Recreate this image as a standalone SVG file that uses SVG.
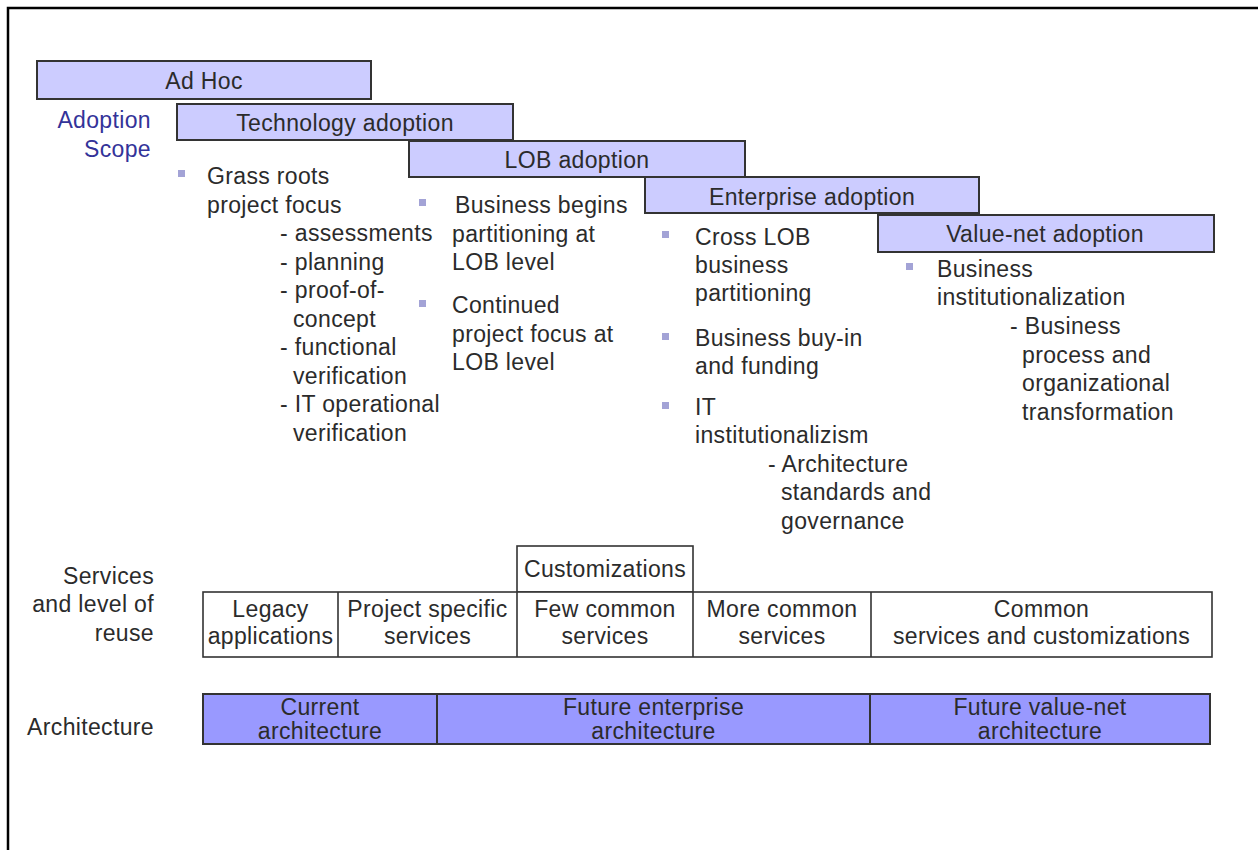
<svg xmlns="http://www.w3.org/2000/svg" width="1258" height="850" viewBox="0 0 1258 850">
<style>
text{font-family:"Liberation Sans",Arial,sans-serif;font-size:23px;fill:#2b2b2b;letter-spacing:0.35px}
.c{text-anchor:middle}
.r{text-anchor:end}
.blue{fill:#333399}
.phase{fill:#ccccff;stroke:#333;stroke-width:2}
.cell{fill:#fff;stroke:#333;stroke-width:1.6}
.arch{fill:#9999ff;stroke:#333;stroke-width:2}
.bul{fill:#a3a3d6}
</style>
<rect width="1258" height="850" fill="#fff"/>
<path d="M8,850 V8 H1258" fill="none" stroke="#000" stroke-width="2.5"/>

<g id="labels">
<text class="r blue" x="151" y="128">Adoption</text>
<text class="r blue" x="151" y="157">Scope</text>
<text class="r" x="154" y="584">Services</text>
<text class="r" x="154" y="612">and level of</text>
<text class="r" x="154" y="641">reuse</text>
<text class="r" x="154" y="735">Architecture</text>
</g>

<g id="adhoc"><rect class="phase" x="37" y="61" width="334" height="38"/><text class="c" x="204" y="89">Ad Hoc</text></g>
<g id="technology"><rect class="phase" x="177" y="104" width="336" height="36"/><text class="c" x="345" y="131">Technology adoption</text></g>
<g id="lob"><rect class="phase" x="409" y="141" width="336" height="36"/><text class="c" x="577" y="168">LOB adoption</text></g>
<g id="enterprise"><rect class="phase" x="645" y="177" width="334" height="36"/><text class="c" x="812" y="205">Enterprise adoption</text></g>
<g id="valuenet"><rect class="phase" x="878" y="215" width="336" height="37"/><text class="c" x="1045" y="242">Value-net adoption</text></g>

<g id="col-technology">
<rect class="bul" x="178" y="170" width="7" height="7"/>
<text x="207" y="184">Grass roots</text>
<text x="207" y="212.5">project focus</text>
<text x="280" y="241">- assessments</text>
<text x="280" y="269.5">- planning</text>
<text x="280" y="298">- proof-of-</text>
<text x="293" y="326.5">concept</text>
<text x="280" y="355">- functional</text>
<text x="293" y="383.5">verification</text>
<text x="280" y="412">- IT operational</text>
<text x="293" y="440.5">verification</text>
</g>

<g id="col-lob">
<rect class="bul" x="419" y="199" width="7" height="7"/>
<text x="455" y="213">Business begins</text>
<text x="452" y="241.5">partitioning at</text>
<text x="452" y="270">LOB level</text>
<rect class="bul" x="419" y="300" width="7" height="7"/>
<text x="452" y="313">Continued</text>
<text x="452" y="341.5">project focus at</text>
<text x="452" y="370">LOB level</text>
</g>

<g id="col-enterprise">
<rect class="bul" x="662" y="231" width="7" height="7"/>
<text x="695" y="245">Cross LOB</text>
<text x="695" y="273">business</text>
<text x="695" y="301">partitioning</text>
<rect class="bul" x="662" y="333" width="7" height="7"/>
<text x="695" y="346">Business buy-in</text>
<text x="695" y="374">and funding</text>
<rect class="bul" x="662" y="402" width="7" height="7"/>
<text x="695" y="415">IT</text>
<text x="695" y="443">institutionalizism</text>
<text x="768" y="471.5">- Architecture</text>
<text x="781" y="500">standards and</text>
<text x="781" y="528.5">governance</text>
</g>

<g id="col-valuenet">
<rect class="bul" x="906" y="263" width="7" height="7"/>
<text x="937" y="277">Business</text>
<text x="937" y="305">institutionalization</text>
<text x="1010" y="334">- Business</text>
<text x="1022" y="362.5">process and</text>
<text x="1022" y="391">organizational</text>
<text x="1022" y="419.5">transformation</text>
</g>

<g id="services">
<rect class="cell" x="517" y="546" width="176" height="46"/>
<text class="c" x="605" y="577">Customizations</text>
<rect class="cell" x="203" y="592" width="1009" height="65"/>
<line x1="338" y1="592" x2="338" y2="657" stroke="#333" stroke-width="1.6"/>
<line x1="517" y1="592" x2="517" y2="657" stroke="#333" stroke-width="1.6"/>
<line x1="693" y1="592" x2="693" y2="657" stroke="#333" stroke-width="1.6"/>
<line x1="871" y1="592" x2="871" y2="657" stroke="#333" stroke-width="1.6"/>
<text class="c" x="270.5" y="617">Legacy</text>
<text class="c" x="270.5" y="644">applications</text>
<text class="c" x="427.5" y="617">Project specific</text>
<text class="c" x="427.5" y="644">services</text>
<text class="c" x="605" y="617">Few common</text>
<text class="c" x="605" y="644">services</text>
<text class="c" x="782" y="617">More common</text>
<text class="c" x="782" y="644">services</text>
<text class="c" x="1041.5" y="617">Common</text>
<text class="c" x="1041.5" y="644">services and customizations</text>
</g>

<g id="architecture">
<rect class="arch" x="203" y="694" width="1007" height="50"/>
<line x1="437" y1="694" x2="437" y2="744" stroke="#333" stroke-width="2"/>
<line x1="870" y1="694" x2="870" y2="744" stroke="#333" stroke-width="2"/>
<text class="c" x="320" y="715">Current</text>
<text class="c" x="320" y="739">architecture</text>
<text class="c" x="653.5" y="715">Future enterprise</text>
<text class="c" x="653.5" y="739">architecture</text>
<text class="c" x="1040" y="715">Future value-net</text>
<text class="c" x="1040" y="739">architecture</text>
</g>
</svg>
